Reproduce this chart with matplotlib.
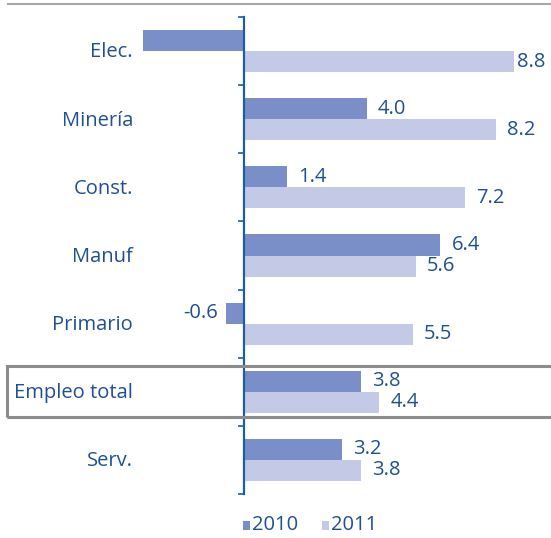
import matplotlib
matplotlib.use("Agg")
import matplotlib.pyplot as plt
from matplotlib.patches import Rectangle
from matplotlib.lines import Line2D
import matplotlib.transforms as mtransforms

# ---- data ----
categories = ["Elec.", "Minería", "Const.", "Manuf", "Primario", "Empleo total", "Serv."]
series_names = ["2010", "2011"]
values_2010 = [-3.3, 4.0, 1.4, 6.4, -0.6, 3.8, 3.2]
values_2011 = [8.8, 8.2, 7.2, 5.6, 5.5, 4.4, 3.8]
highlight = "Empleo total"

# ---- style ----
c2010 = "#7a8ec7"
c2011 = "#c4cae6"
axis_blue = "#1f5da3"
text_blue = "#1f5092"
FONT = ["Open Sans", "DejaVu Sans"]
plt.rcParams["font.family"] = FONT
FS = 14.5
FW = "medium"

W, H = 551, 538
fig = plt.figure(figsize=(W / 100, H / 100), dpi=100)
fig.patch.set_facecolor("white")

# axes: zero at x=244px, 30.7 px per unit; y boundaries from 17px to 494px
xmin, xmax = -4.0, 10.0
ppu = 30.7
left_px = 244 - (0 - xmin) * ppu
right_px = 244 + xmax * ppu
top_px, bot_px = 17, 494
ax = fig.add_axes([left_px / W, 1 - bot_px / H, (right_px - left_px) / W, (bot_px - top_px) / H])
ax.set_xlim(xmin, xmax)
n = len(categories)
ax.set_ylim(n - 0.5, -0.5)
ax.set_facecolor("none")

bh = 0.31
ys = list(range(n))
ax.barh([y - bh / 2 for y in ys], values_2010, height=bh, color=c2010, zorder=2)
ax.barh([y + bh / 2 for y in ys], values_2011, height=bh, color=c2011, zorder=2)

# value labels (kept inside the figure's right edge)
label_xmax = 8.9
for y, v in zip(ys, values_2010):
    if v < -2:  # label hidden behind category text in the reference
        continue
    if v >= 0:
        ax.text(min(v + 0.36, label_xmax), y - bh / 2, f"{v:.1f}", ha="left", va="center", fontsize=FS,
                fontweight=FW, color=text_blue)
    else:
        ax.text(v - 0.26, y - bh / 2, f"{v:.1f}", ha="right", va="center", fontsize=FS,
                fontweight=FW, color=text_blue)
for y, v in zip(ys, values_2011):
    ax.text(min(v + 0.36, label_xmax), y + bh / 2, f"{v:.1f}", ha="left", va="center", fontsize=FS,
            fontweight=FW, color=text_blue, clip_on=False)

# spines / axis
for s in ["top", "right", "bottom"]:
    ax.spines[s].set_visible(False)
ax.spines["left"].set_position(("data", 0))
ax.spines["left"].set_color(axis_blue)
ax.spines["left"].set_linewidth(1.6)
ax.spines["left"].set_zorder(3)
ax.set_xticks([])
ax.set_yticks([i - 0.5 for i in range(n + 1)])
ax.set_yticklabels([])
ax.tick_params(axis="y", direction="out", length=4.5, width=1.2, color=axis_blue)

# category labels, right-aligned at ~132px
trans = mtransforms.blended_transform_factory(fig.transFigure, ax.transData)
for y, c in zip(ys, categories):
    ax.text(133 / W, y + 0.02, c, transform=trans, ha="right", va="center", fontsize=FS,
            fontweight=FW, color=text_blue, clip_on=False)

# highlight box
box_top_px, box_bot_px = 366, 417
fig.patches.append(Rectangle((7 / W, 1 - box_bot_px / H), (W - 5) / W, (box_bot_px - box_top_px) / H,
                             transform=fig.transFigure, fill=False, edgecolor="#8c8c8c", linewidth=2.2, zorder=5))

# top rule
fig.add_artist(Line2D([8 / W, 1], [1 - 4 / H, 1 - 4 / H], transform=fig.transFigure, color="#a8a8a8", linewidth=1.5))

# legend (manual)
leg_y = 1 - 525 / H
for x0, name, col in [(243, series_names[0], c2010), (322, series_names[1], c2011)]:
    fig.patches.append(Rectangle((x0 / W, 1 - 530 / H), 7 / W, 9 / H, transform=fig.transFigure,
                                 facecolor=col, edgecolor="none"))
    fig.text((x0 + 9) / W, leg_y, name, ha="left", va="center", fontsize=FS,
             fontweight=FW, color=text_blue)

fig.savefig("out.png", dpi=100, facecolor="white")
